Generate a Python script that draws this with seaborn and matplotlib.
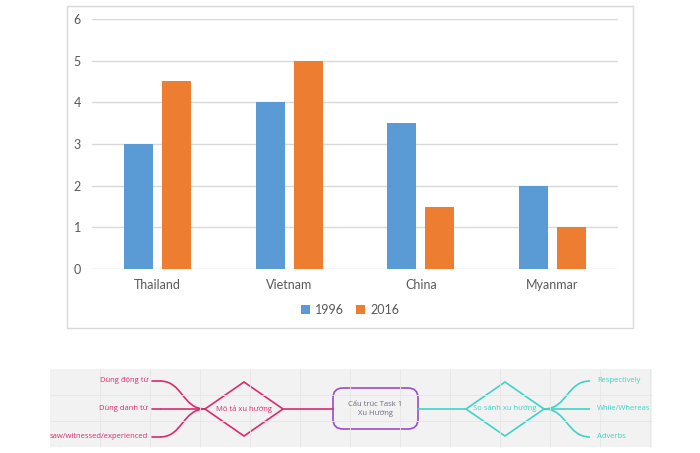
import numpy as np
import pandas as pd
import matplotlib.pyplot as plt
import seaborn as sns
from matplotlib.patches import Rectangle, Polygon, FancyBboxPatch, PathPatch
from matplotlib.path import Path

# Chart data
countries = ["Thailand", "Vietnam", "China", "Myanmar"]
values_1996 = [3, 4, 3.5, 2]
values_2016 = [4.5, 5, 1.5, 1]
years = ["1996", "2016"]

# Mind map labels
left_items = ["Dùng động từ", "Dùng danh từ", "saw/witnessed/experienced"]
left_node = "Mô tả xu hướng"
center_node = "Cấu trúc Task 1\nXu Hướng"
right_node = "So sánh xu hướng"
right_items = ["Respectively", "While/Whereas", "Adverbs"]

df = pd.DataFrame({
    "Country": countries * 2,
    "Year": [years[0]] * 4 + [years[1]] * 4,
    "Value": values_1996 + values_2016,
})

sns.set_style("white")
plt.rcParams["font.family"] = ["Lato", "DejaVu Sans"]

W, H = 700, 453
fig = plt.figure(figsize=(7, 4.53), dpi=100)

# background canvas in pixel coordinates
bg = fig.add_axes([0, 0, 1, 1], zorder=0)
bg.set_xlim(0, W)
bg.set_ylim(H, 0)
bg.axis("off")

# chart frame
bg.add_patch(Rectangle((67, 6), 566, 322, fill=False, ec="#D9D9D9", lw=1))

# bar chart
ax = fig.add_axes([92 / W, 1 - 269 / H, 526 / W, 250 / H], zorder=1)
ax.patch.set_alpha(0)
sns.barplot(data=df, x="Country", y="Value", hue="Year",
            palette=["#5B9BD5", "#ED7D31"], width=0.58, gap=0.24,
            saturation=1, linewidth=0, ax=ax, zorder=3)
ax.set_ylim(0, 6)
ax.set_yticks(range(0, 7))
ax.set_xlim(-0.5, 3.5)
ax.yaxis.grid(True, color="#D9D9D9", lw=1, zorder=0)
ax.set_axisbelow(True)
sns.despine(ax=ax, left=True, bottom=True)
ax.set_xlabel("")
ax.set_ylabel("")
ax.tick_params(axis="both", length=0, labelsize=9, colors="#595959")
ax.tick_params(axis="x", pad=7)
ax.tick_params(axis="y", pad=8)
ax.legend(loc="center", bbox_to_anchor=(350 / W, 1 - 310 / H),
          bbox_transform=fig.transFigure, ncol=2, frameon=False,
          fontsize=9, handlelength=0.7, handleheight=0.7,
          handletextpad=0.4, columnspacing=1.0, labelcolor="#595959")

# mind map
bg.add_patch(Rectangle((50, 369), 602, 78, color="#F2F2F2", lw=0))
for gx in np.arange(100, 652, 50):
    bg.plot([gx, gx], [369, 447], color="#E6E6E6", lw=0.6)
for gy in [395, 421]:
    bg.plot([50, 652], [gy, gy], color="#E6E6E6", lw=0.6)

pink = "#DC2A6E"
teal = "#3DD4C6"
purple = "#9B4DCA"
mm_font = ["Open Sans", "DejaVu Sans"]
row_y = [381, 409, 437]
cy = 409


def s_curve(x0, y0, x1, y1, color):
    xm = (x0 + x1) / 2
    p = Path([(x0, y0), (xm, y0), (xm, y1), (x1, y1)],
             [Path.MOVETO, Path.CURVE4, Path.CURVE4, Path.CURVE4])
    bg.add_patch(PathPatch(p, fill=False, ec=color, lw=1.2))


def diamond(xc, half_w, half_h, color):
    bg.add_patch(Polygon([(xc - half_w, cy), (xc, cy - half_h),
                          (xc + half_w, cy), (xc, cy + half_h)],
                         closed=True, fill=False, ec=color, lw=1.2))


for label, y in zip(left_items, row_y):
    bg.text(148, y, label, ha="right", va="center", fontsize=5.5,
            color=pink, family=mm_font)
    bg.plot([152, 160], [y, y], color=pink, lw=1.2)
    s_curve(160, y, 205, cy, pink)

diamond(244, 39, 27, pink)
bg.text(244, cy, left_node, ha="center", va="center", fontsize=5.5,
        color=pink, family=mm_font)
bg.plot([283, 333], [cy, cy], color=pink, lw=1.2)

bg.add_patch(FancyBboxPatch((338, 393), 75, 31,
                            boxstyle="round,pad=5,rounding_size=10",
                            fill=False, ec=purple, lw=1.2))
bg.text(375.5, cy, center_node, ha="center", va="center", fontsize=5.5,
        color="#6E6A80", family=mm_font, linespacing=1.5)

bg.plot([418, 466], [cy, cy], color=teal, lw=1.2)
diamond(505, 39, 27, teal)
bg.text(505, cy, right_node, ha="center", va="center", fontsize=5.5,
        color=teal, family=mm_font)

for label, y in zip(right_items, row_y):
    s_curve(544, cy, 590, y, teal)
    bg.text(597, y, label, ha="left", va="center", fontsize=5.5,
            color=teal, family=mm_font)

fig.savefig("out.png", dpi=100, facecolor="white")
